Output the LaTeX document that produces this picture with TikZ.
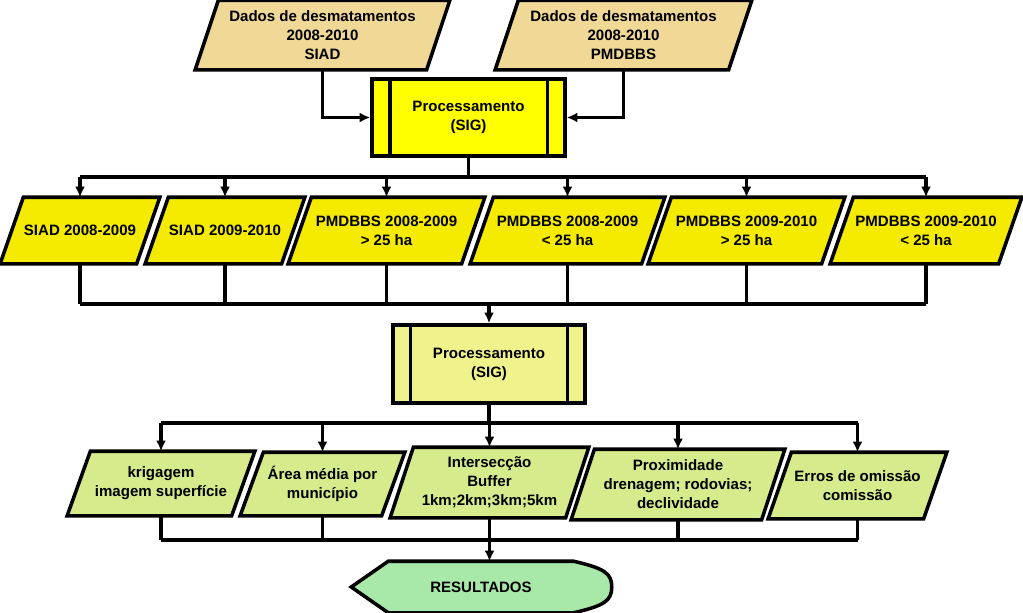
\documentclass[tikz,border=0pt]{standalone}
\usepackage{fontspec}
\setmainfont{Liberation Sans}
\usetikzlibrary{arrows.meta,backgrounds}

\definecolor{dadostan}{RGB}{240,216,150}
\definecolor{etapaamarelo}{RGB}{245,235,0}
\definecolor{procamarelo}{RGB}{255,255,0}
\definecolor{procclaro}{RGB}{240,242,140}
\definecolor{analiseverde}{RGB}{214,236,140}
\definecolor{resverde}{RGB}{168,232,168}

\begin{document}
\begin{tikzpicture}[x=0.025cm, y=-0.025cm, >={Latex[length=7.5pt,width=7pt]}]

% --- Estilos globais ---
\tikzset{
    caixa/.style={
        draw=black,
        line width=2.5pt,
        align=center,
        inner sep=1pt,
        font=\bfseries\fontsize{10.7}{13.5}\selectfont
    },
    tamanho/.style 2 args={
        minimum width=#1*0.025cm,
        minimum height=#2*0.025cm
    },
    entrada/.style={caixa, rectangle, draw=none},
    proc/.style={caixa, rectangle},
    resultado/.style={caixa, draw=none},
    conector/.style={line width=2.5pt, draw=black}
}

% --- Dados de entrada ---
\useasboundingbox (0,0) rectangle (1023,612);

\node[entrada, tamanho={228}{66}] (siad) at (322.5,35)
    {Dados de desmatamentos\\2008-2010\\SIAD};
\node[entrada, tamanho={230}{66}] (pmdbbs) at (623.5,35)
    {Dados de desmatamentos\\2008-2010\\PMDBBS};

% --- Primeiro processamento ---
\node[proc, fill=procamarelo, tamanho={193}{77}] (proc1) at (468.5,117.5)
    {Processamento\\(SIG)};
\draw[conector] ([xshift=0.5cm]proc1.north west) -- ([xshift=0.5cm]proc1.south west);
\draw[conector] ([xshift=-0.48cm]proc1.north east) -- ([xshift=-0.48cm]proc1.south east);

\draw[conector, ->] (siad.south) |- (proc1.west);
\draw[conector, ->] (pmdbbs.south) |- (proc1.east);

% --- Recortes por periodo ---
\node[entrada, tamanho={133}{63}] (r2a) at (80,230.5) {SIAD 2008-2009};
\node[entrada, tamanho={133}{63}] (r2b) at (225,230.5) {SIAD 2009-2010};
\node[entrada, tamanho={170}{63}] (r2c) at (386.5,230.5) {PMDBBS 2008-2009\\> 25 ha};
\node[entrada, tamanho={168}{63}] (r2d) at (567.5,230.5) {PMDBBS 2008-2009\\< 25 ha};
\node[entrada, tamanho={170}{63}] (r2e) at (746.5,230.5) {PMDBBS 2009-2010\\> 25 ha};
\node[entrada, tamanho={165}{63}] (r2f) at (926,230.5) {PMDBBS 2009-2010\\< 25 ha};

\coordinate (bus1) at (0,177);
\coordinate (bus2) at (0,304);

\draw[conector] (proc1.south) -- (proc1.south |- bus1);
\draw[conector] (r2a.north |- bus1) -- (r2f.north |- bus1);
\draw[conector] (r2a.south |- bus2) -- (r2f.south |- bus2);
\foreach \n in {a,...,f} {
    \draw[conector, ->] (r2\n.north |- bus1) -- (r2\n.north);
    \draw[conector] (r2\n.south) -- (r2\n.south |- bus2);
}

% --- Segundo processamento ---
\node[proc, fill=procclaro, tamanho={192}{78}] (proc2) at (489,364)
    {Processamento\\(SIG)};
\draw[conector] ([xshift=0.48cm]proc2.north west) -- ([xshift=0.48cm]proc2.south west);
\draw[conector] ([xshift=-0.48cm]proc2.north east) -- ([xshift=-0.48cm]proc2.south east);

\draw[conector, ->] (proc2.north |- bus2) -- (proc2.north);

% --- Analises ---
\node[entrada, tamanho={161}{61}] (r3a) at (161,483.5) {krigagem\\imagem superfície};
\node[entrada, tamanho={138}{60}] (r3b) at (322.5,484) {Área média por\\município};
\node[entrada, tamanho={172}{67}] (r3c) at (489.5,482.5) {Intersecção\\Buffer\\1km;2km;3km;5km};
\node[entrada, tamanho={187}{67}] (r3d) at (678,484.5) {Proximidade\\drenagem; rodovias;\\declividade};
\node[entrada, tamanho={152}{63}] (r3e) at (857.5,485.5) {Erros de omissão\\comissão};

\coordinate (bus3) at (0,423);
\coordinate (bus4) at (0,540);

\draw[conector] (proc2.south) -- (proc2.south |- bus3);
\draw[conector] (r3a.north |- bus3) -- (r3e.north |- bus3);
\draw[conector] (r3a.south |- bus4) -- (r3e.south |- bus4);
\foreach \n in {a,...,e} {
    \draw[conector, ->] (r3\n.north |- bus3) -- (r3\n.north);
    \draw[conector] (r3\n.south) -- (r3\n.south |- bus4);
}

% --- Resultados ---
\node[resultado, tamanho={182}{48}] (res) at (481,587) {RESULTADOS};

\draw[conector, ->] (r3c.south) -- (r3c.south |- res.north);

% --- Paralelogramos e terminal no fundo ---
\begin{scope}[on background layer]
    \foreach \n/\cor in {siad/dadostan, pmdbbs/dadostan,
                         r2a/etapaamarelo, r2b/etapaamarelo, r2c/etapaamarelo,
                         r2d/etapaamarelo, r2e/etapaamarelo, r2f/etapaamarelo,
                         r3a/analiseverde, r3b/analiseverde, r3c/analiseverde,
                         r3d/analiseverde, r3e/analiseverde} {
        \draw[conector, fill=\cor]
            ([xshift=0.29cm]\n.north west) -- ([xshift=0.29cm]\n.north east)
            -- ([xshift=-0.29cm]\n.south east) -- ([xshift=-0.29cm]\n.south west)
            -- cycle;
    }
    \draw[conector, fill=resverde]
        (res.north west) -- (res.north east)
        .. controls +(30,7) and +(0,-14) .. ([xshift=0.95cm]res.east)
        .. controls +(0,14) and +(30,-7) .. (res.south east)
        -- (res.south west) -- ([xshift=-0.925cm]res.west) -- cycle;
\end{scope}

\end{tikzpicture}
\end{document}
